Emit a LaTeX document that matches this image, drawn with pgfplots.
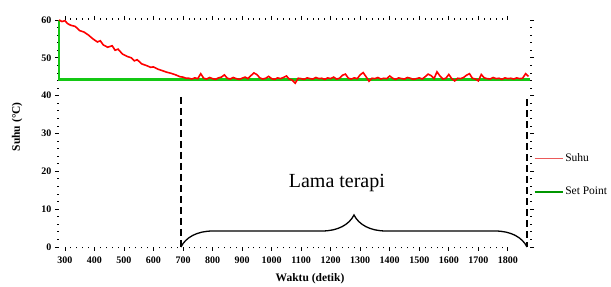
\documentclass[border=0pt]{standalone}
\usepackage{pgfplots}
\pgfplotsset{compat=1.18}
\usepackage{fontspec}
\setmainfont{Liberation Serif}
\usetikzlibrary{decorations.pathreplacing}
\definecolor{datred}{RGB}{255,0,0}
\definecolor{datgreen}{RGB}{20,200,20}
\definecolor{legred}{RGB}{235,90,90}
\definecolor{leggreen}{RGB}{0,150,0}

\pgfplotstableread{
t T
280 60.0
290 59.6
300 59.8
310 59.0
320 58.6
335 58.3
350 57.2
365 56.8
380 56.0
395 55.0
410 54.2
420 54.5
430 53.4
445 52.8
460 53.2
470 52.0
480 52.3
495 51.0
510 50.4
525 50.0
535 49.2
545 49.5
560 48.4
575 48.0
590 47.5
600 47.6
615 47.0
630 46.6
645 46.2
660 45.9
675 45.5
690 45.0
700 44.9
710 44.6
720 44.6
730 44.4
740 44.7
750 44.5
760 45.8
770 44.6
780 44.4
790 44.8
800 44.5
810 44.3
820 44.7
830 44.9
840 45.5
850 44.6
860 44.4
870 44.8
880 44.5
890 44.3
900 44.6
910 44.9
920 44.5
930 45.3
940 46.0
950 45.6
960 44.7
970 44.4
980 44.6
990 45.1
1000 44.5
1010 44.3
1020 44.7
1030 44.5
1040 44.8
1050 45.2
1060 44.4
1070 44.1
1080 43.3
1090 44.6
1100 44.5
1110 44.3
1120 44.7
1130 44.5
1140 44.4
1150 44.8
1160 44.5
1170 44.6
1180 44.3
1190 44.7
1200 44.5
1210 44.9
1220 44.4
1230 44.6
1240 45.4
1250 45.7
1260 44.6
1270 44.4
1280 44.7
1290 44.5
1300 45.5
1310 46.1
1320 45.0
1330 43.8
1340 44.6
1350 44.5
1360 44.8
1370 44.4
1380 44.6
1390 44.5
1400 45.2
1410 44.6
1420 44.3
1430 44.7
1440 44.5
1450 44.4
1460 44.8
1470 44.6
1480 44.3
1490 44.5
1500 44.7
1510 44.4
1520 45.0
1530 45.7
1540 45.3
1550 44.5
1560 46.3
1570 45.2
1580 44.4
1590 44.6
1600 45.6
1610 44.5
1620 43.9
1630 44.6
1640 44.5
1650 44.8
1660 45.4
1670 45.8
1680 44.6
1690 44.4
1700 43.9
1710 45.6
1720 44.7
1730 44.5
1740 44.4
1750 44.8
1760 44.5
1770 44.6
1780 44.3
1790 44.7
1800 44.5
1810 44.6
1820 44.4
1830 44.7
1840 44.5
1850 44.6
1860 45.8
1870 45.1
}\suhudata

\pgfplotstableread{
t T
280 60.0
280 44.2
1875 44.2
}\setdata

\begin{document}
\begin{tikzpicture}
\begin{axis}[
  scale only axis, width=471pt, height=227pt,
  xmin=280, xmax=1875, ymin=0, ymax=60,
  axis line style={draw=none},
  tick align=outside,
  xtick={300,400,...,1800}, ytick={0,10,...,60},
  minor x tick num=4, minor y tick num=4,
  major tick length=4pt, minor tick length=1.5pt,
  tick style={black, line width=0.8pt},
  /pgf/number format/assume math mode=true,
  /pgf/number format/1000 sep={},
  every tick label/.append style={font=\fontsize{10}{11}\selectfont\bfseries},
  xticklabel style={yshift=-2pt},
  xlabel={Waktu (detik)}, ylabel={Suhu (°C)},
  label style={font=\fontsize{11.5}{12}\selectfont\bfseries},
  y label style={at={(axis description cs:-0.089,0.53)}, anchor=center},
  x label style={at={(axis description cs:0.533,0)}, anchor=center, yshift=-32pt},
  clip=false,
  legend style={at={(axis description cs:1.008,0.42)}, anchor=north west,
    draw=none, fill=none, font=\fontsize{11.5}{12}\selectfont, row sep=20pt, inner sep=0pt},
  legend cell align=left,
  legend image code/.code={\draw[#1] (0pt,0pt) -- (28pt,0pt);},
]
\addlegendimage{legred, line width=1.1pt}
\addlegendentry{Suhu}
\addlegendimage{leggreen, line width=1.3pt}
\addlegendentry{Set Point}

\addplot[datgreen, line width=2.6pt, forget plot] table[x=t, y=T] {\setdata};
\addplot[datred, line width=1.6pt, forget plot] table[x=t, y=T] {\suhudata};

\draw[line width=1.5pt, dash pattern=on 7pt off 4pt] (axis cs:693,39.7) -- (axis cs:693,0);
\draw[line width=1.5pt, dash pattern=on 7pt off 4pt] (axis cs:1865,39.0) -- (axis cs:1865,0);
\draw[decorate, decoration={brace, amplitude=32pt}, line width=1.3pt] (axis cs:693,0) -- (axis cs:1865,0);
\node[font=\fontsize{20}{22}\selectfont] at (axis cs:1221,16.9) {Lama terapi};
\coordinate (bl) at (rel axis cs:0,0);
\coordinate (tr) at (rel axis cs:1,1);
\end{axis}
\pgfresetboundingbox
\path[use as bounding box] ([shift={(-59pt,-40pt)}]bl) rectangle ([shift={(81pt,20pt)}]tr);
\end{tikzpicture}
\end{document}
